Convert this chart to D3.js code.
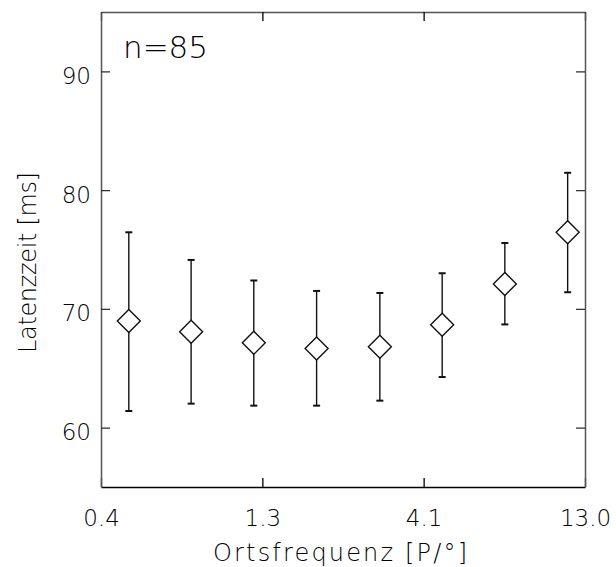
<!DOCTYPE html>
<html>
<head>
<meta charset="utf-8">
<script src="https://cdn.jsdelivr.net/npm/d3@7"></script>
<style>
  html, body { margin: 0; padding: 0; background: #fff; }
  svg text { font-family: "DejaVu Sans", sans-serif; fill: #000; }
</style>
</head>
<body>
<svg id="chart" width="616" height="567"></svg>
<script>
// Spatial frequency (cycles/degree), mean latency and error bar bounds (ms)
const frequencies = [0.50, 0.78, 1.22, 1.91, 3.00, 4.68, 7.32, 11.46];
const latencyMean = [68.97, 68.07, 67.14, 66.67, 66.81, 68.66, 72.10, 76.45];
const latencyLow  = [61.40, 62.02, 61.85, 61.85, 62.27, 64.26, 68.69, 71.40];
const latencyHigh = [76.45, 74.12, 72.39, 71.51, 71.34, 73.00, 75.55, 81.46];

const xTickValues = [0.41, 1.297, 4.1, 12.97];
const xTickLabels = ["0.4", "1.3", "4.1", "13.0"];
const yTickValues = [60, 70, 80, 90];
const sampleLabel = "n=85";

const margin = { left: 101, top: 12, right: 31, bottom: 80 };
const width = 616, height = 567;
const plotW = width - margin.left - margin.right;
const plotH = height - margin.top - margin.bottom;

const svg = d3.select("#chart");
const g = svg.append("g").attr("transform", `translate(${margin.left},${margin.top})`);

const x = d3.scaleLog().domain([0.41, 12.97]).range([0, plotW]);
const y = d3.scaleLinear().domain([55, 95]).range([plotH, 0]);

const tickLen = 9;
const frameColor = "#555";

// Bottom axis with inward ticks
const xAxis = g.append("g")
  .attr("transform", `translate(0,${plotH})`)
  .call(d3.axisBottom(x).tickValues(xTickValues)
    .tickFormat((d, i) => xTickLabels[i]).tickSize(-tickLen).tickSizeOuter(0));
xAxis.select(".domain").attr("stroke", "#000").attr("stroke-width", 1.5);
xAxis.selectAll(".tick line").attr("stroke", "#000").attr("stroke-width", 1.3);
xAxis.selectAll(".tick text")
  .attr("y", 39).attr("dy", 0)
  .attr("font-size", 23).attr("font-weight", 200)
  .style("font-family", '"DejaVu Sans", sans-serif');

// Top axis: ticks only
const xTop = g.append("g")
  .call(d3.axisTop(x).tickValues(xTickValues).tickFormat("").tickSize(-tickLen).tickSizeOuter(0));
xTop.select(".domain").attr("stroke", frameColor).attr("stroke-width", 1.5);
xTop.selectAll(".tick line").attr("stroke", "#000").attr("stroke-width", 1.3);

// Left axis with inward ticks
const yAxis = g.append("g")
  .call(d3.axisLeft(y).tickValues(yTickValues).tickFormat(d3.format("d"))
    .tickSize(-tickLen).tickSizeOuter(0));
yAxis.select(".domain").attr("stroke", frameColor).attr("stroke-width", 1.5);
yAxis.selectAll(".tick line").attr("stroke", "#333").attr("stroke-width", 1.3);
yAxis.selectAll(".tick text")
  .attr("x", -10).attr("dy", 12)
  .attr("font-size", 23).attr("font-weight", 200)
  .style("font-family", '"DejaVu Sans", sans-serif');

// Right axis: ticks only
const yRight = g.append("g")
  .attr("transform", `translate(${plotW},0)`)
  .call(d3.axisRight(y).tickValues(yTickValues).tickFormat("").tickSize(-tickLen).tickSizeOuter(0));
yRight.select(".domain").attr("stroke", frameColor).attr("stroke-width", 1.5);
yRight.selectAll(".tick line").attr("stroke", "#333").attr("stroke-width", 1.3);

// Error bars
const data = frequencies.map((f, i) => ({
  f, mean: latencyMean[i], lo: latencyLow[i], hi: latencyHigh[i]
}));
const capHalf = 3.5;
const bars = g.append("g").attr("stroke", "#111").attr("stroke-width", 1.4).attr("fill", "none");
bars.selectAll("line.stem").data(data).join("line").attr("class", "stem")
  .attr("x1", d => x(d.f)).attr("x2", d => x(d.f))
  .attr("y1", d => y(d.lo)).attr("y2", d => y(d.hi));
bars.selectAll("line.capHi").data(data).join("line").attr("class", "capHi")
  .attr("x1", d => x(d.f) - capHalf).attr("x2", d => x(d.f) + capHalf)
  .attr("y1", d => y(d.hi)).attr("y2", d => y(d.hi)).attr("stroke-width", 2);
bars.selectAll("line.capLo").data(data).join("line").attr("class", "capLo")
  .attr("x1", d => x(d.f) - capHalf).attr("x2", d => x(d.f) + capHalf)
  .attr("y1", d => y(d.lo)).attr("y2", d => y(d.lo)).attr("stroke-width", 2);

// Diamond markers
const dh = 11.5;
g.append("g").selectAll("path").data(data).join("path")
  .attr("d", d => {
    const cx = x(d.f), cy = y(d.mean);
    return `M${cx},${cy - dh}L${cx + dh},${cy}L${cx},${cy + dh}L${cx - dh},${cy}Z`;
  })
  .attr("fill", "#fff").attr("stroke", "#111").attr("stroke-width", 1.4);

// Sample size annotation
g.append("text")
  .attr("x", 22).attr("y", 46)
  .attr("font-size", 31).attr("font-weight", 200)
  .text(sampleLabel);

// Axis titles
svg.append("text")
  .attr("x", 213).attr("y", 561)
  .attr("font-size", 24).attr("font-weight", 200)
  .attr("textLength", 254).attr("lengthAdjust", "spacing")
  .text("Ortsfrequenz [P/°]");

svg.append("text")
  .attr("transform", "translate(36,353) rotate(-90)")
  .attr("font-size", 24).attr("font-weight", 200)
  .attr("textLength", 181).attr("lengthAdjust", "spacing")
  .text("Latenzzeit [ms]");
</script>
</body>
</html>
